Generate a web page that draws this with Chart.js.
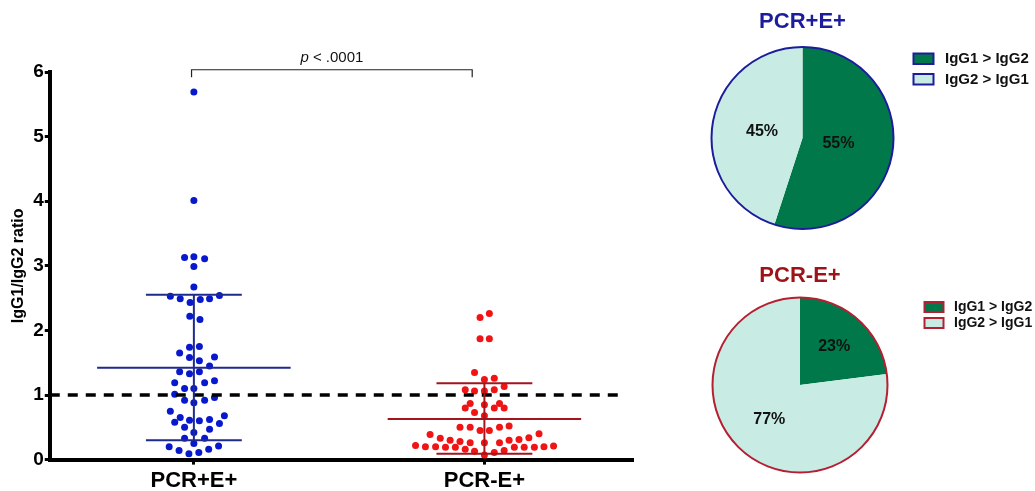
<!DOCTYPE html>
<html>
<head>
<meta charset="utf-8">
<script src="https://cdn.jsdelivr.net/npm/chart.js@4.4.1/dist/chart.umd.min.js"></script>
<style>
html,body{margin:0;padding:0;background:#fff;}
#wrap{position:relative;width:1035px;height:491px;overflow:hidden;background:#fff;}
#wrap > div{position:absolute;}
</style>
</head>
<body>
<div id="wrap">
  <div style="left:0;top:0;width:660px;height:491px"><canvas id="scatter"></canvas></div>
  <div style="left:680px;top:0;width:355px;height:245px"><canvas id="pieTop"></canvas></div>
  <div style="left:680px;top:250px;width:355px;height:241px"><canvas id="pieBottom"></canvas></div>
</div>
<script>
// ---------------- DATA ----------------
const categories = ['PCR+E+', 'PCR-E+'];
const yTickValues = [0, 1, 2, 3, 4, 5, 6];

// IgG1/IgG2 ratio of each individual
const bluePoints = [5.69, 4.01, 3.13, 3.14, 3.11, 2.99, 2.67,
  2.53, 2.49, 2.43, 2.48, 2.49, 2.54, 2.22, 2.17,
  1.65, 1.74, 1.75, 1.58, 1.53, 1.45, 1.59, 1.36, 1.33, 1.36,
  1.19, 1.10, 1.10, 1.19, 1.22, 1.01, 0.92, 0.88, 0.92, 0.96,
  0.75, 0.65, 0.61, 0.60, 0.62, 0.68, 0.58, 0.50, 0.42, 0.47, 0.56,
  0.33, 0.25, 0.33, 0.20, 0.14, 0.09, 0.11, 0.16, 0.21];
// horizontal beeswarm spread of each point (category units)
const blueJitter = [0, 0, -0.032, 0, 0.037, 0, 0,
  -0.081, -0.047, -0.013, 0.022, 0.054, 0.088, -0.014, 0.021,
  -0.049, -0.015, 0.019, -0.015, 0.019, 0.054, 0.071, -0.049, -0.015, 0.019,
  -0.066, -0.032, 0, 0.037, 0.071, -0.066, -0.032, 0, 0.037, 0.071,
  -0.081, -0.047, -0.015, 0.019, 0.054, 0.105, -0.066, -0.032, 0, 0.054, 0.088,
  -0.032, 0, 0.037, -0.085, -0.051, -0.017, 0.017, 0.051, 0.085];

const redPoints = [2.20, 2.26, 1.87, 1.87, 1.35, 1.24, 1.26,
  1.08, 1.06, 1.06, 1.08, 1.13, 0.87, 0.87, 0.85, 0.80, 0.80, 0.80, 0.73, 0.68,
  0.50, 0.50, 0.45, 0.45, 0.50, 0.52,
  0.39, 0.33, 0.30, 0.28, 0.26, 0.26, 0.26, 0.30, 0.31, 0.34, 0.40,
  0.22, 0.20, 0.20, 0.19, 0.19, 0.16, 0.19, 0.19, 0.19, 0.20, 0.21,
  0.13, 0.07, 0.11, 0.14];
const redJitter = [-0.015, 0.017, -0.015, 0.017, -0.034, 0, 0.034,
  -0.066, -0.034, 0, 0.034, 0.068, -0.049, 0.052, 0, -0.066, 0.034, 0.068, -0.034, 0,
  -0.084, -0.049, -0.015, 0.017, 0.052, 0.085,
  -0.187, -0.152, -0.118, -0.084, -0.049, 0, 0.052, 0.085, 0.119, 0.153, 0.188,
  -0.237, -0.203, -0.168, -0.134, -0.100, -0.066, 0.103, 0.137, 0.172, 0.205, 0.238,
  -0.034, 0, 0.034, 0.068];

// [mean - SD, mean, mean + SD]
const blueStats = [0.30, 1.42, 2.55];
const redStats = [0.09, 0.63, 1.18];
const thresholdValue = 1;
const pValueParts = ['p', ' < .0001'];

const pieLabels = ['IgG1 > IgG2', 'IgG2 > IgG1'];
const piePosValues = [55, 45];   // PCR+E+
const pieNegValues = [23, 77];   // PCR-E+
const pieTitles = ['PCR+E+', 'PCR-E+'];

// ---------------- STYLE ----------------
const FONT = "'Liberation Sans', Arial, Helvetica, sans-serif";
Chart.defaults.font.family = FONT;
Chart.defaults.color = '#000';
const BLUE_DOT = '#0818cc', BLUE_LINE = '#1f2a8e';
const RED_DOT = '#f01414', RED_LINE = '#a3151c';
const GREEN = '#00784a', MINT = '#c8ece3';
const MEAN_HALF = 0.333, WHISK_HALF = 0.165;

function errorBars(cx, stats, color) {
  const lo = stats[0], mean = stats[1], hi = stats[2];
  return {
    type: 'line',
    data: [
      {x: cx - MEAN_HALF, y: mean}, {x: cx + MEAN_HALF, y: mean}, {x: cx, y: null},
      {x: cx - WHISK_HALF, y: hi}, {x: cx + WHISK_HALF, y: hi}, {x: cx, y: null},
      {x: cx - WHISK_HALF, y: lo}, {x: cx + WHISK_HALF, y: lo}, {x: cx, y: null},
      {x: cx, y: lo}, {x: cx, y: hi}
    ],
    borderColor: color, borderWidth: 2, pointRadius: 0, spanGaps: false,
    fill: false, tension: 0
  };
}

const bracketLeft = 0.992, bracketRight = 1.958, bracketTop = 6.035, bracketFoot = 5.92;

const pValuePlugin = {
  id: 'pValue',
  afterDatasetsDraw(chart) {
    const {ctx, scales} = chart;
    const cx = scales.x.getPixelForValue((bracketLeft + bracketRight) / 2);
    const cy = scales.y.getPixelForValue(bracketTop) - 12;
    ctx.save();
    ctx.fillStyle = '#111';
    ctx.textBaseline = 'middle';
    ctx.font = 'italic 15px ' + FONT;
    const w1 = ctx.measureText(pValueParts[0]).width;
    ctx.font = '15px ' + FONT;
    const w2 = ctx.measureText(pValueParts[1]).width;
    let x = cx - (w1 + w2) / 2;
    ctx.textAlign = 'left';
    ctx.font = 'italic 15px ' + FONT;
    ctx.fillText(pValueParts[0], x, cy);
    ctx.font = '15px ' + FONT;
    ctx.fillText(pValueParts[1], x + w1, cy);
    ctx.restore();
  }
};

new Chart(document.getElementById('scatter'), {
  type: 'scatter',
  data: {
    datasets: [
      errorBars(1, blueStats, BLUE_LINE),
      errorBars(2, redStats, RED_LINE),
      {
        type: 'line',
        data: [{x: 0.504, y: thresholdValue}, {x: 2.46, y: thresholdValue}],
        borderColor: '#000', borderWidth: 3.5, borderDash: [10, 8],
        pointRadius: 0, fill: false
      },
      {
        type: 'line',
        data: [{x: bracketLeft, y: bracketFoot}, {x: bracketLeft, y: bracketTop},
               {x: bracketRight, y: bracketTop}, {x: bracketRight, y: bracketFoot}],
        borderColor: '#222', borderWidth: 1.2, pointRadius: 0, fill: false, clip: false
      },
      {
        data: bluePoints.map((v, i) => ({x: 1 + blueJitter[i], y: v})),
        backgroundColor: BLUE_DOT, borderWidth: 0, pointRadius: 3.5
      },
      {
        data: redPoints.map((v, i) => ({x: 2 + redJitter[i], y: v})),
        backgroundColor: RED_DOT, borderWidth: 0, pointRadius: 3.5
      }
    ]
  },
  options: {
    responsive: true, maintainAspectRatio: false, animation: false, events: [],
    layout: {padding: {left: 9, right: 28, top: 72, bottom: -6}},
    plugins: {legend: {display: false}, tooltip: {enabled: false}},
    scales: {
      x: {
        type: 'linear', min: 0.504, max: 2.508,
        afterBuildTicks: (scale) => { scale.ticks = categories.map((c, i) => ({value: i + 1})); },
        ticks: {
          callback: (v) => categories[Math.round(v) - 1] || '',
          font: {size: 22, weight: 'bold'}, color: '#000', padding: 3, maxRotation: 0, autoSkip: false
        },
        grid: {drawOnChartArea: false, drawTicks: true, tickLength: 5, color: '#000', lineWidth: 3},
        border: {display: true, color: '#000', width: 4}
      },
      y: {
        min: 0, max: 6,
        afterBuildTicks: (scale) => { scale.ticks = yTickValues.map(v => ({value: v})); },
        ticks: {font: {size: 19, weight: 'bold'}, color: '#000', padding: 1},
        grid: {drawOnChartArea: false, drawTicks: true, tickLength: 5, color: '#000', lineWidth: 3},
        border: {display: true, color: '#000', width: 4},
        title: {display: true, text: 'IgG1/IgG2 ratio', font: {size: 16, weight: 'bold'}, color: '#000', padding: {top: 0, bottom: 4}}
      }
    }
  },
  plugins: [pValuePlugin]
});

// ---------------- PIES ----------------
const pieDecor = {
  id: 'pieDecor',
  afterDatasetsDraw(chart, args, opts) {
    const ctx = chart.ctx;
    const meta = chart.getDatasetMeta(0);
    const ds = chart.data.datasets[0];
    const a0 = meta.data[0];
    const cx = a0.x, cy = a0.y, R = a0.outerRadius;
    ctx.save();
    ctx.beginPath();
    ctx.arc(cx, cy, R, 0, Math.PI * 2);
    ctx.lineWidth = 2;
    ctx.strokeStyle = opts.outline;
    ctx.stroke();
    const total = ds.data.reduce((a, b) => a + b, 0);
    ctx.font = 'bold 16px ' + FONT;
    ctx.fillStyle = '#111';
    ctx.textAlign = 'center';
    ctx.textBaseline = 'middle';
    meta.data.forEach((arc, i) => {
      const mid = (arc.startAngle + arc.endAngle) / 2;
      const r = R * opts.labelFrac[i];
      ctx.fillText(Math.round(ds.data[i] / total * 100) + '%', cx + Math.cos(mid) * r, cy + Math.sin(mid) * r);
    });
    // legend
    const L = opts.legend;
    ctx.font = 'bold ' + L.font + 'px ' + FONT;
    ctx.textAlign = 'left';
    chart.data.labels.forEach((lab, i) => {
      const y = L.y + i * L.step;
      ctx.fillStyle = ds.backgroundColor[i];
      ctx.fillRect(L.x, y, L.w, L.h);
      ctx.lineWidth = 2;
      ctx.strokeStyle = opts.outline;
      ctx.strokeRect(L.x, y, L.w, L.h);
      ctx.fillStyle = '#111';
      ctx.fillText(lab, L.tx, y + L.h / 2 + 0.5);
    });
    ctx.restore();
  }
};

function pieChart(id, values, title, titleColor, outline, pad, titlePad, legend, labelFrac) {
  return new Chart(document.getElementById(id), {
    type: 'pie',
    data: {
      labels: pieLabels,
      datasets: [{data: values, backgroundColor: [GREEN, MINT], borderWidth: 0, hoverOffset: 0}]
    },
    options: {
      responsive: true, maintainAspectRatio: false, animation: false, events: [],
      layout: {padding: pad},
      plugins: {
        legend: {display: false}, tooltip: {enabled: false},
        title: {display: true, text: title, color: titleColor, fullSize: false,
                font: {size: 22, weight: 'bold'}, padding: titlePad},
        pieDecor: {outline: outline, legend: legend, labelFrac: labelFrac}
      }
    },
    plugins: [pieDecor]
  });
}

pieChart('pieTop', piePosValues, pieTitles[0], '#1c1c9c', '#1c1c9c',
  {left: 31.5, right: 141.5, top: 0, bottom: 16}, {top: 9, bottom: 11.6},
  {x: 233.5, y: 53.5, w: 20, h: 10.5, step: 20.5, tx: 265, font: 15}, [0.4, 0.45]);

pieChart('pieBottom', pieNegValues, pieTitles[1], '#9c1418', '#b51f32',
  {left: 32.5, right: 147.5, top: 0, bottom: 18.5}, {top: 13, bottom: 8.1},
  {x: 244.5, y: 52, w: 19, h: 10, step: 16, tx: 274, font: 14}, [0.59, 0.53]);
</script>
</body>
</html>
